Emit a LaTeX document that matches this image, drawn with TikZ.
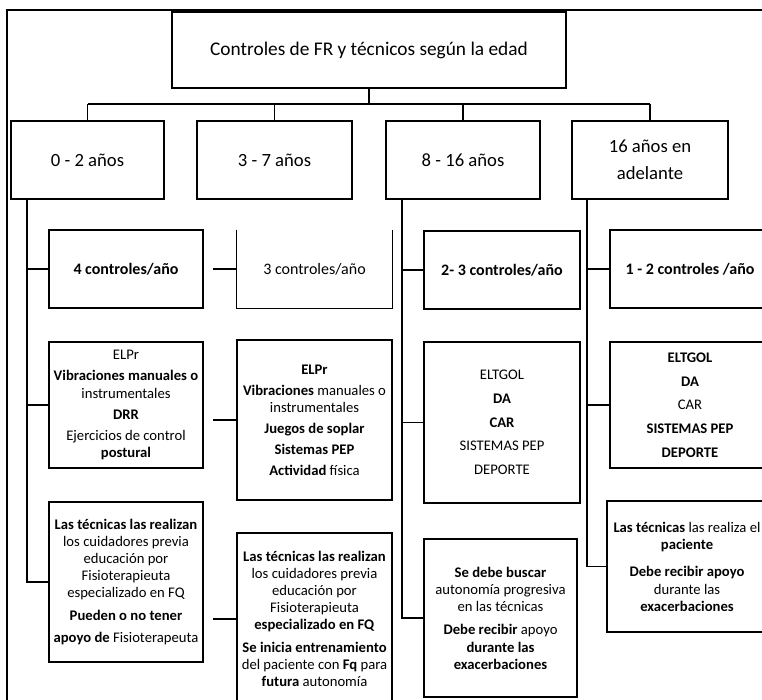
\documentclass[tikz,border=0pt]{standalone}
\usepackage{fontspec}
\setmainfont{Carlito}
\tikzset{
  box/.style={draw, line width=1pt, align=center, inner sep=2pt},
  link/.style={line width=0.9pt},
  small/.style={font=\fontsize{11}{12.8}\selectfont},
}
\begin{document}
\begin{tikzpicture}[x=0.75pt,y=-0.75pt]
    \tikzstyle{every node}=[font=\fontsize{14}{18}\selectfont]
    \useasboundingbox (0,0) rectangle (762,699);
    \clip (0,0) rectangle (762,699);

    % Frame and title
    \draw [line width=1.3pt] (7,10) rectangle (775,712);
    \node [box, minimum width=295.5pt, minimum height=57pt, font=\fontsize{14.5}{18}\selectfont] (title) at (369,50) {Controles de FR y técnicos según la edad};

    % Age groups
    \node [box, minimum width=114.75pt, minimum height=58.5pt] (a) at (87.5,160) {0 - 2 años};
    \node [box, minimum width=116.25pt, minimum height=58.5pt] (b) at (274.5,160) {3 - 7 años};
    \node [box, minimum width=115.5pt, minimum height=58.5pt] (c) at (463,160) {8 - 16 años};
    \node [box, minimum width=117pt, minimum height=58.5pt] (d) at (650,160) {16 años en\\[2pt]adelante};
    \coordinate (bus) at (369,104);
    \draw [link] (title.south) -- (bus);
    \draw [link] (a.north |- bus) -- (d.north |- bus);
    \foreach \g in {a,b,c,d}
        \draw [link] (\g.north |- bus) -- (\g.north);

    % Column 1 (0 - 2 años)
    \node [box, font=\bfseries\fontsize{12}{14}\selectfont, minimum width=115.5pt, minimum height=58.5pt] (a1) at (126,269) {4 controles/año};
    \node [box, small, minimum width=115.5pt, minimum height=94.5pt] (a2) at (126,405)
        {ELPr\\[3pt]\textbf{Vibraciones manuales o}\\instrumentales\\[3pt]\textbf{DRR}\\[3pt]Ejercicios de control\\\textbf{postural}};
    \node [box, small, minimum width=115.5pt, minimum height=120pt] (a3) at (126,582)
        {\textbf{Las técnicas las realizan}\\los cuidadores previa\\educación por\\Fisioterapieuta\\especializado en FQ\\[4pt]\textbf{Pueden o no tener}\\[4pt]\textbf{apoyo de} Fisioterapeuta};
    \coordinate (ta) at (27,199);
    \draw [link] (ta) |- (a3.west);
    \draw [link, line width=1.4pt] (a1.west) -- (a1.west -| ta);
    \draw [link] (a2.west) -- (a2.west -| ta);

    % Column 2 (3 - 7 años)
    \node [minimum width=116.25pt, minimum height=58.5pt, font=\fontsize{12}{14}\selectfont] (b1) at (314.5,269) {3 controles/año};
    \draw [line width=1pt] (b1.north west) |- (b1.south east) -- (b1.north east);
    \node [box, small, minimum width=116.25pt, minimum height=120pt] (b2) at (314.5,420)
        {\textbf{ELPr}\\[3pt]\textbf{Vibraciones} manuales o\\instrumentales\\[3pt]\textbf{Juegos de soplar}\\[3pt]\textbf{Sistemas PEP}\\[3pt]\textbf{Actividad} física};
    \node [box, small, minimum width=116.25pt, minimum height=129pt] (b3) at (314.5,619)
        {\textbf{Las técnicas las realizan}\\los cuidadores previa\\educación por\\Fisioterapieuta\\\textbf{especializado en FQ}\\[4pt]\textbf{Se inicia entrenamiento}\\del paciente con \textbf{Fq} para\\\textbf{futura} autonomía};
    \coordinate (tb) at (213,0);
    \foreach \n in {b1,b2,b3}
        \draw [link, line width=1.3pt] (\n.west) -- (\n.west -| tb);

    % Column 3 (8 - 16 años)
    \node [box, font=\bfseries\fontsize{12}{14}\selectfont, minimum width=117pt, minimum height=58.5pt] (c1) at (502,270) {2- 3 controles/año};
    \node [box, small, minimum width=117pt, minimum height=120.75pt] (c2) at (502,422.5)
        {ELTGOL\\[5pt]\textbf{DA}\\[5pt]\textbf{CAR}\\[5pt]SISTEMAS PEP\\[5pt]DEPORTE};
    \node [box, small, minimum width=114.75pt, minimum height=118.5pt] (c3) at (500.5,618)
        {\textbf{Se debe buscar}\\autonomía progresiva\\en las técnicas\\[5pt]\textbf{Debe recibir} apoyo\\\textbf{durante las}\\\textbf{exacerbaciones}};
    \coordinate (tc) at (402,199);
    \draw [link] (tc) |- (c3.west);
    \draw [link] (c1.west) -- (c1.west -| tc);
    \draw [link] (c2.west) -- (c2.west -| tc);

    % Column 4 (16 años en adelante)
    \node [box, font=\bfseries\fontsize{12}{14}\selectfont, minimum width=120pt, minimum height=58.5pt] (d1) at (690,269) {1 - 2 controles /año};
    \node [box, small, minimum width=120pt, minimum height=94.5pt] (d2) at (690,405)
        {\textbf{ELTGOL}\\[5pt]\textbf{DA}\\[5pt]CAR\\[5pt]\textbf{SISTEMAS PEP}\\[5pt]\textbf{DEPORTE}};
    \node [box, small, minimum width=120pt, minimum height=98.25pt] (d3) at (687,566.5)
        {\textbf{Las técnicas} las realiza el\\\textbf{paciente}\\[8pt]\textbf{Debe recibir apoyo}\\durante las\\\textbf{exacerbaciones}};
    \coordinate (td) at (587,199);
    \draw [link] (td) |- (d3.west);
    \draw [link, line width=1.4pt] (d1.west) -- (d1.west -| td);
    \draw [link] (d2.west) -- (d2.west -| td);

\end{tikzpicture}
\end{document}
